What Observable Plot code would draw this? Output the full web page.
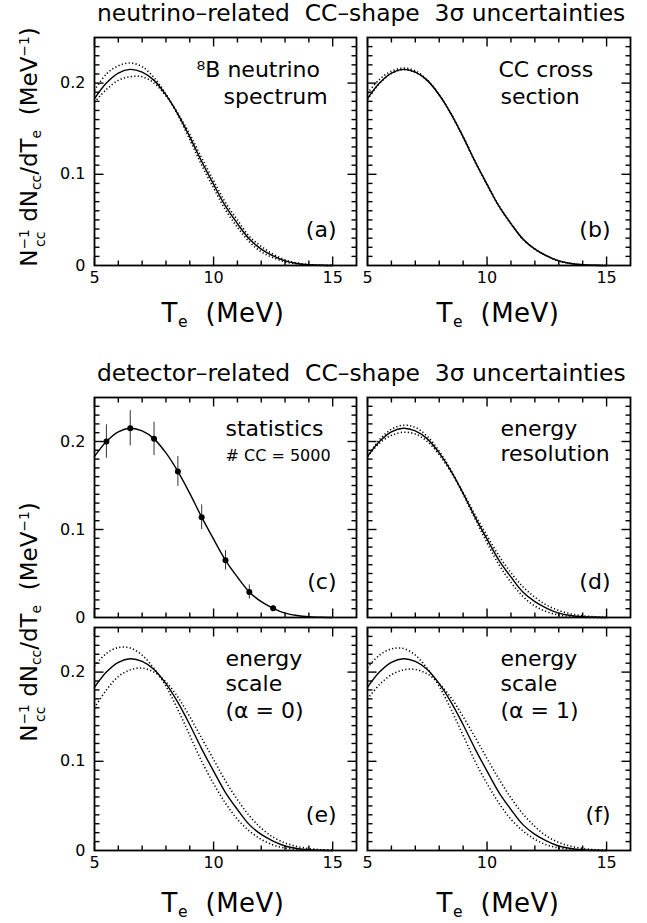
<!DOCTYPE html>
<html><head><meta charset="utf-8">
<script src="https://cdn.jsdelivr.net/npm/d3@7"></script>
<script src="https://cdn.jsdelivr.net/npm/@observablehq/plot@0.6"></script>
<style>
body { margin:0; background:white; }
#root { position:relative; width:647px; height:923px; background:white; font-family:"DejaVu Sans", sans-serif; color:black; overflow:hidden; }
.abs { position:absolute; }
.title { font-size:23.4px; white-space:pre; line-height:1; }
.xlab { font-size:26px; white-space:pre; width:220px; text-align:center; line-height:1; letter-spacing:0.5px; }
.ylab { font-size:23px; white-space:pre; width:320px; height:30px; line-height:30px; text-align:center; transform:rotate(-90deg); }
.sub { font-size:.6em; vertical-align:-0.3em; line-height:0; }
.sup { font-size:.6em; vertical-align:0.6em; line-height:0; }
.stack { display:inline-block; font-size:.6em; line-height:1.15; vertical-align:-0.55em; }
.stack span { display:block; }
</style></head>
<body><div id="root"></div>
<script>
// ---- data ----
const Te      = [5, 5.5, 6, 6.5, 7, 7.5, 8, 8.5, 9, 9.5, 10, 10.5, 11, 11.5, 12, 12.5, 13, 13.5, 14, 14.5, 15];
const central = [0.183, 0.200, 0.211, 0.215, 0.212, 0.203, 0.187, 0.166, 0.141, 0.114, 0.089, 0.065, 0.046, 0.029, 0.018, 0.0105, 0.0050, 0.0022, 0.0008, 0.0002, 0.0000];
// (a) 8B neutrino spectrum
const aUpper  = [0.192, 0.210, 0.219, 0.222, 0.218, 0.206, 0.188, 0.165, 0.138, 0.110, 0.085, 0.061, 0.042, 0.026, 0.015, 0.0085, 0.0040, 0.0016, 0.0005, 0.0001, 0.0000];
const aLower  = [0.179, 0.193, 0.203, 0.207, 0.207, 0.200, 0.186, 0.167, 0.144, 0.118, 0.093, 0.069, 0.050, 0.032, 0.021, 0.0125, 0.0062, 0.0028, 0.0011, 0.0003, 0.0001];
// (b) CC cross section
const bUpper  = [0.189, 0.204, 0.213, 0.2165, 0.2135, 0.2035, 0.187, 0.1655, 0.1405, 0.1135, 0.0885, 0.0645, 0.0455, 0.0287, 0.0178, 0.0104, 0.0049, 0.0021, 0.0008, 0.0002, 0.0000];
const bLower  = [0.182, 0.1995, 0.2105, 0.2148, 0.2118, 0.2028, 0.187, 0.1662, 0.1413, 0.1143, 0.0893, 0.0653, 0.0463, 0.0292, 0.0182, 0.0106, 0.0051, 0.0023, 0.0008, 0.0002, 0.0000];
// (c) statistics, # CC = 5000
const statTe  = [5.5, 6.5, 7.5, 8.5, 9.5, 10.5, 11.5, 12.5];
const statVal = [0.200, 0.215, 0.203, 0.166, 0.114, 0.065, 0.029, 0.0105];
const statErr = [0.019, 0.020, 0.019, 0.017, 0.014, 0.011, 0.008, 0.003];
// (d) energy resolution
const dUpper  = [0.183, 0.202, 0.214, 0.2185, 0.216, 0.206, 0.189, 0.167, 0.140, 0.112, 0.085, 0.060, 0.040, 0.024, 0.013, 0.0065, 0.0028, 0.0010, 0.0003, 0.0001, 0.0000];
const dLower  = [0.183, 0.198, 0.207, 0.2105, 0.2085, 0.200, 0.185, 0.165, 0.142, 0.117, 0.093, 0.070, 0.051, 0.035, 0.023, 0.014, 0.0080, 0.0042, 0.0020, 0.0008, 0.0003];
// (e) energy scale (alpha = 0)
const eUpper  = [0.207, 0.221, 0.2275, 0.227, 0.219, 0.204, 0.184, 0.158, 0.129, 0.100, 0.075, 0.053, 0.035, 0.022, 0.0125, 0.0062, 0.0028, 0.0011, 0.0004, 0.0001, 0.0000];
const eLower  = [0.160, 0.180, 0.195, 0.2025, 0.2045, 0.200, 0.189, 0.172, 0.150, 0.126, 0.102, 0.078, 0.057, 0.039, 0.025, 0.015, 0.0085, 0.0045, 0.0022, 0.0009, 0.0003];
// (f) energy scale (alpha = 1)
const fUpper  = [0.205, 0.219, 0.226, 0.2265, 0.219, 0.204, 0.184, 0.158, 0.129, 0.100, 0.075, 0.053, 0.035, 0.022, 0.0125, 0.0062, 0.0028, 0.0011, 0.0004, 0.0001, 0.0000];
const fLower  = [0.170, 0.186, 0.197, 0.2025, 0.203, 0.198, 0.187, 0.171, 0.150, 0.127, 0.103, 0.080, 0.059, 0.041, 0.027, 0.016, 0.0090, 0.0048, 0.0024, 0.0010, 0.0004];
// ticks
const xTickLabels = [5, 10, 15];
const xMinorTicks = [6, 7, 8, 9, 11, 12, 13, 14];
const yTickLabels = [0, 0.1, 0.2];
const yMajorTicks = [0.1, 0.2];
const yMinorTicks = [0.01,0.02,0.03,0.04,0.05,0.06,0.07,0.08,0.09,0.11,0.12,0.13,0.14,0.15,0.16,0.17,0.18,0.19,0.21,0.22,0.23,0.24];
// texts
const title1 = "neutrino–related  CC–shape  3σ uncertainties";
const title2 = "detector–related  CC–shape  3σ uncertainties";

// ---- layout ----
const root = document.getElementById("root");
const xDomain = [5, 16], yDomain = [0, 0.25];
const cols = [
  {left: 0, width: 362, marginLeft: 94, marginRight: 6},
  {left: 362, width: 285, marginLeft: 5, marginRight: 17}
];
const rows = {
  top: {top: 27, marginTop: 10, frameH: 228, marginBottom: 32},
  mid: {top: 387, marginTop: 10, frameH: 220, marginBottom: 6},
  bot: {top: 622, marginTop: 5, frameH: 223, marginBottom: 32}
};

const series = (vals) => Te.map((t, i) => ({t, v: vals[i]}));
const stat = statTe.map((t, i) => ({t, v: statVal[i], e: statErr[i]}));

const panels = [
  {col: 0, row: "top", upper: aUpper, lower: aLower, xl: true, yl: true, tag: "(a)",
   notes: [{s: "⁸B neutrino", dx: 102, dy: 32}, {s: "spectrum", dx: 129, dy: 59}]},
  {col: 1, row: "top", upper: bUpper, lower: bLower, xl: true, yl: false, tag: "(b)",
   notes: [{s: "CC cross", dx: 131, dy: 32}, {s: "section", dx: 133, dy: 59}]},
  {col: 0, row: "mid", stat: true, xl: false, yl: true, tag: "(c)",
   notes: [{s: "statistics", dx: 131, dy: 31}, {s: "# CC = 5000", dx: 131, dy: 58, size: 16}]},
  {col: 1, row: "mid", upper: dUpper, lower: dLower, xl: false, yl: false, tag: "(d)",
   notes: [{s: "energy", dx: 133, dy: 31}, {s: "resolution", dx: 133, dy: 56}]},
  {col: 0, row: "bot", upper: eUpper, lower: eLower, xl: true, yl: true, tag: "(e)",
   notes: [{s: "energy", dx: 131, dy: 31}, {s: "scale", dx: 131, dy: 56}, {s: "(α = 0)", dx: 131, dy: 83}]},
  {col: 1, row: "bot", upper: fUpper, lower: fLower, xl: true, yl: false, tag: "(f)",
   notes: [{s: "energy", dx: 133, dy: 31}, {s: "scale", dx: 133, dy: 56}, {s: "(α = 1)", dx: 133, dy: 83}]}
];

const dotted = {stroke: "black", strokeWidth: 1.6, strokeDasharray: "1.2,2.3", strokeLinecap: "butt", curve: "catmull-rom"};

for (const p of panels) {
  const c = cols[p.col], r = rows[p.row];
  const fw = c.width - c.marginLeft - c.marginRight, fh = r.frameH;
  // pixel tick length -> data units on each scale
  const yLen = (px) => px * (yDomain[1] - yDomain[0]) / fh;
  const xLen = (px) => px * (xDomain[1] - xDomain[0]) / fw;
  const marks = [];
  marks.push(Plot.frame({stroke: "black", strokeWidth: 1.8}));
  const tk = {stroke: "black", strokeWidth: 1.4};
  for (const [ticks, len] of [[xMinorTicks, 5], [xTickLabels, 9]]) {
    const bottom = ticks.map(t => ({x: t, a: yDomain[0], b: yDomain[0] + yLen(len)}));
    const top = ticks.map(t => ({x: t, a: yDomain[1] - yLen(len), b: yDomain[1]}));
    marks.push(Plot.link(bottom.concat(top), {x1: "x", x2: "x", y1: "a", y2: "b", ...tk}));
  }
  for (const [ticks, len] of [[yMinorTicks, 5], [yMajorTicks, 9]]) {
    const left = ticks.map(t => ({y: t, a: xDomain[0], b: xDomain[0] + xLen(len)}));
    const right = ticks.map(t => ({y: t, a: xDomain[1] - xLen(len), b: xDomain[1]}));
    marks.push(Plot.link(left.concat(right), {y1: "y", y2: "y", x1: "a", x2: "b", ...tk}));
  }
  if (p.xl) marks.push(Plot.text(xTickLabels, {x: d => d, frameAnchor: "bottom", lineAnchor: "top", dy: 6, text: d => String(d), fontSize: 16, fill: "black"}));
  if (p.yl) marks.push(Plot.text(yTickLabels, {y: d => d, frameAnchor: "left", textAnchor: "end", lineAnchor: "middle", dx: -9, text: d => String(d), fontSize: 16, fill: "black"}));
  if (p.stat) {
    marks.push(Plot.ruleX(stat, {x: "t", y1: d => d.v - d.e, y2: d => d.v + d.e, stroke: "#333", strokeWidth: 1}));
    marks.push(Plot.dot(stat, {x: "t", y: "v", r: 3, fill: "black", stroke: "none"}));
  } else {
    marks.push(Plot.line(series(p.upper), {x: "t", y: "v", ...dotted}));
    marks.push(Plot.line(series(p.lower), {x: "t", y: "v", ...dotted}));
  }
  marks.push(Plot.line(series(central), {x: "t", y: "v", curve: "catmull-rom", stroke: "black", strokeWidth: 1.4}));
  for (const n of p.notes) {
    marks.push(Plot.text([n.s], {text: d => d, frameAnchor: "top-left", textAnchor: "start", lineAnchor: "middle", dx: n.dx, dy: n.dy, fontSize: n.size || 22, fill: "black"}));
  }
  marks.push(Plot.text([p.tag], {text: d => d, frameAnchor: "bottom-right", textAnchor: "end", lineAnchor: "middle", dx: -20, dy: -36, fontSize: 22, fill: "black"}));

  const svg = Plot.plot({
    width: c.width,
    height: r.marginTop + r.frameH + r.marginBottom,
    marginLeft: c.marginLeft, marginRight: c.marginRight,
    marginTop: r.marginTop, marginBottom: r.marginBottom,
    x: {domain: xDomain, axis: null},
    y: {domain: yDomain, axis: null},
    style: {background: "transparent", fontFamily: "DejaVu Sans, sans-serif", fontSize: "16px", color: "black", overflow: "visible"},
    marks
  });
  svg.style.position = "absolute";
  svg.style.left = c.left + "px";
  svg.style.top = r.top + "px";
  root.appendChild(svg);
}

function addDiv(cls, html, left, top) {
  const d = document.createElement("div");
  d.className = "abs " + cls;
  d.innerHTML = html;
  d.style.left = left + "px";
  d.style.top = top + "px";
  root.appendChild(d);
  return d;
}
addDiv("title", title1, 97, 2);
addDiv("title", title2, 97, 362);
const xlabHTML = 'T<span class="sub">e</span>  (MeV)';
addDiv("xlab", xlabHTML, 113, 300);
addDiv("xlab", xlabHTML, 388, 300);
addDiv("xlab", xlabHTML, 113, 890);
addDiv("xlab", xlabHTML, 388, 890);
const ylabHTML = 'N<span class="stack"><span>−1</span><span>cc</span></span> dN<span class="sub">cc</span>/dT<span class="sub">e</span>  (MeV<span class="sup">−1</span>)';
addDiv("ylab", ylabHTML, -131, 132);
addDiv("ylab", ylabHTML, -131, 607);
</script>
</body></html>
